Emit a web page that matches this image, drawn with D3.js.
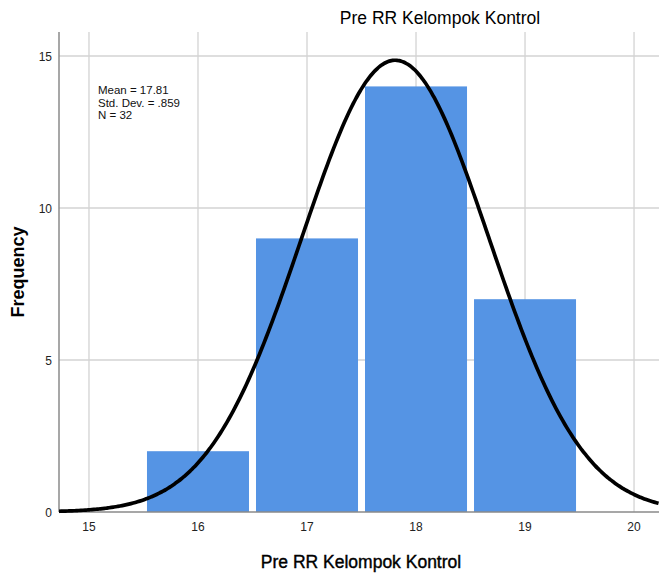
<!DOCTYPE html>
<html>
<head>
<meta charset="utf-8">
<script src="https://cdn.jsdelivr.net/npm/d3@7/dist/d3.min.js"></script>
<style>
  html, body { margin: 0; padding: 0; background: #fff; }
  svg { display: block; font-family: "Liberation Sans", Arial, sans-serif; }
</style>
</head>
<body>
<svg id="chart" width="659" height="576"></svg>
<script>
// ---- data ----
const binCenters = [16, 17, 18, 19];
const frequencies = [2, 9, 14, 7];
const xTicks = [15, 16, 17, 18, 19, 20];
const yTicks = [0, 5, 10, 15];
const meanValue = 17.81;
const stdDev = 0.859;
const nCount = 32;
const binWidth = 1;
const statsLines = ["Mean = 17.81", "Std. Dev. = .859", "N = 32"];
const chartTitle = "Pre RR Kelompok Kontrol";
const xLabel = "Pre RR Kelompok Kontrol";
const yLabel = "Frequency";

// ---- layout ----
const W = 659, H = 576;
const plot = { left: 59, right: 659, top: 32, bottom: 512 };

const svg = d3.select("#chart");

const x = d3.scaleLinear().domain([14.725, 20.229]).range([plot.left, plot.right]);
const y = d3.scaleLinear().domain([0, 15.79]).range([plot.bottom, plot.top]);

// grid lines
const grid = svg.append("g");
grid.selectAll("line.v").data(xTicks).join("line")
  .attr("x1", d => x(d)).attr("x2", d => x(d))
  .attr("y1", plot.top).attr("y2", plot.bottom)
  .attr("stroke", "#d3d3d3").attr("stroke-width", 1.3);
grid.selectAll("line.h").data(yTicks.filter(d => d > 0)).join("line")
  .attr("x1", plot.left).attr("x2", plot.right)
  .attr("y1", d => y(d)).attr("y2", d => y(d))
  .attr("stroke", "#d3d3d3").attr("stroke-width", 1.3);

// bars
const inset = 3.5;
svg.append("g").selectAll("rect").data(binCenters).join("rect")
  .attr("x", (d) => x(d - binWidth / 2) + inset)
  .attr("width", (d) => x(d + binWidth / 2) - x(d - binWidth / 2) - 2 * inset)
  .attr("y", (d, i) => y(frequencies[i]))
  .attr("height", (d, i) => y(0) - y(frequencies[i]))
  .attr("fill", "#5594e4");

// axes lines
svg.append("line").attr("x1", plot.left).attr("x2", plot.left)
  .attr("y1", plot.top).attr("y2", plot.bottom)
  .attr("stroke", "#8a8a8a").attr("stroke-width", 1.5);
svg.append("line").attr("x1", plot.left).attr("x2", plot.right)
  .attr("y1", plot.bottom).attr("y2", plot.bottom)
  .attr("stroke", "#8a8a8a").attr("stroke-width", 1.5);

// normal curve
const scaleFactor = nCount * binWidth / (stdDev * Math.sqrt(2 * Math.PI));
const xs = d3.range(x.domain()[0], x.domain()[1] + 0.001, 0.02);
const line = d3.line()
  .x(d => x(d))
  .y(d => y(scaleFactor * Math.exp(-0.5 * Math.pow((d - meanValue) / stdDev, 2))))
  .curve(d3.curveBasis);
svg.append("clipPath").attr("id", "clip").append("rect")
  .attr("x", plot.left).attr("y", 0).attr("width", plot.right - plot.left).attr("height", plot.bottom + 2);
svg.append("path").datum(xs).attr("d", line)
  .attr("fill", "none").attr("stroke", "#000").attr("stroke-width", 3.7)
  .attr("clip-path", "url(#clip)");

// tick labels
svg.append("g").selectAll("text").data(xTicks).join("text")
  .attr("x", d => x(d)).attr("y", 531)
  .attr("text-anchor", "middle").attr("font-size", 12).attr("fill", "#222")
  .text(d => d);
svg.append("g").selectAll("text").data(yTicks).join("text")
  .attr("x", 52).attr("y", d => y(d) + 4.5)
  .attr("text-anchor", "end").attr("font-size", 12).attr("fill", "#222")
  .text(d => d);

// stats text
svg.append("g").selectAll("text").data(statsLines).join("text")
  .attr("x", 98).attr("y", (d, i) => 94 + i * 12.5)
  .attr("font-size", 11.5).attr("fill", "#111")
  .text(d => d);

// title
svg.append("text").attr("x", 440).attr("y", 24)
  .attr("text-anchor", "middle").attr("font-size", 17.5).attr("fill", "#000")
  .text(chartTitle);

// x label
svg.append("text").attr("x", 361).attr("y", 568)
  .attr("text-anchor", "middle").attr("font-size", 17.5).attr("fill", "#000")
  .attr("stroke", "#000").attr("stroke-width", 0.4)
  .text(xLabel);

// y label
svg.append("text")
  .attr("transform", "translate(24,272) rotate(-90)")
  .attr("text-anchor", "middle").attr("font-size", 18).attr("font-weight", "bold").attr("fill", "#000")
  .text(yLabel);
</script>
</body>
</html>
